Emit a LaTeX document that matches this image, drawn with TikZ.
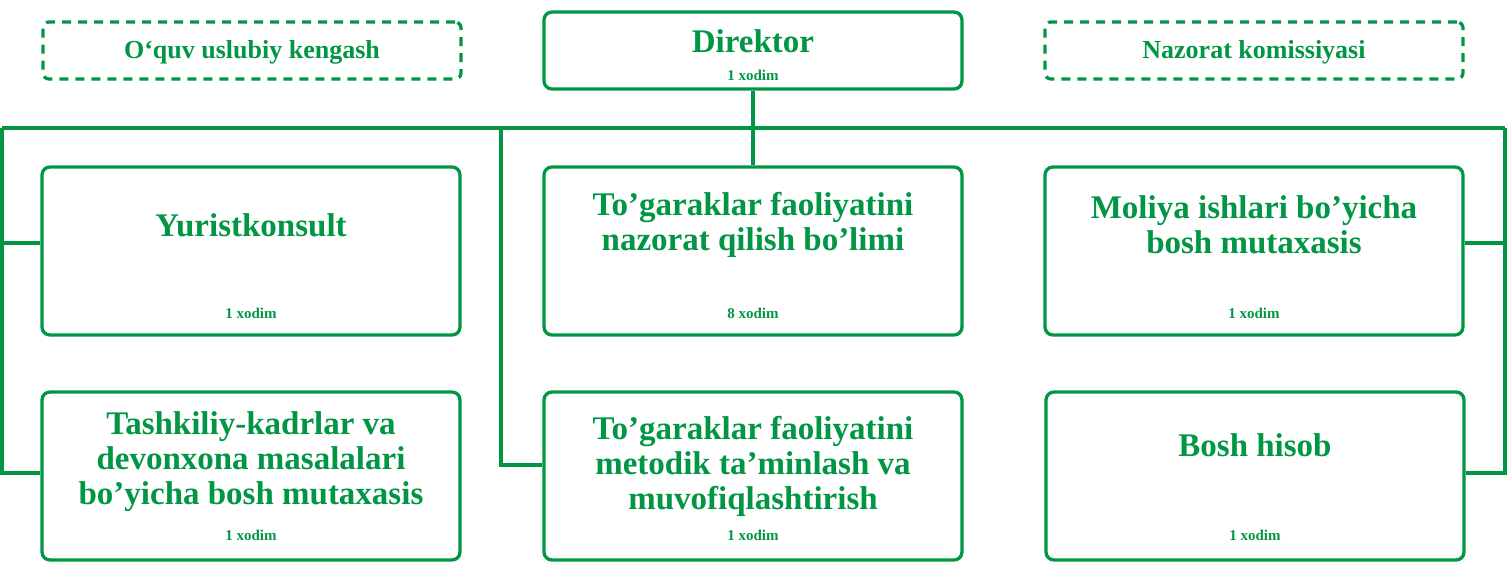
\documentclass[tikz,border=0pt]{standalone}
\usepackage{fontspec}
\setmainfont{Liberation Serif}
\definecolor{grn}{RGB}{0,150,68}
\begin{document}
\begin{tikzpicture}[x=1pt,y=-1pt,
  box/.style={draw=grn,line width=3.3pt,rounded corners=8pt,minimum width=418pt,minimum height=168pt,inner sep=0pt},
  dbox/.style={draw=grn,line width=3.3pt,dash pattern=on 9pt off 7pt,rounded corners=6pt,minimum width=418pt,minimum height=57pt,inner sep=0pt},
  dirbox/.style={draw=grn,line width=3.3pt,rounded corners=8pt,minimum width=418pt,minimum height=77pt,inner sep=0pt},
  ttl/.style={text=grn,font=\fontsize{33}{35}\selectfont\bfseries,align=center,inner sep=0pt},
  sttl/.style={text=grn,font=\fontsize{26}{30}\selectfont\bfseries,align=center,inner sep=0pt},
  cnt/.style={text=grn,font=\fontsize{15}{17}\selectfont\bfseries,inner sep=0pt},
  wire/.style={draw=grn,line width=3.5pt}
]
\useasboundingbox (0,0) rectangle (1508,575);
% top row
\node[dbox] (ouk) at (252,50.5) {};
\node[sttl] (oukt) at (252,52) {O‘quv uslubiy kengash};
\node[dirbox] (dir) at (753,50.5) {};
\node[ttl] (dirt) at (753,41) {Direktor};
\node[cnt] (dirc) at (753,75) {1 xodim};
\node[dbox] (nk) at (1254,50.5) {};
\node[sttl] (nkt) at (1254,52) {Nazorat komissiyasi};
% row 1
\node[box] (a1) at (251,251) {};
\node[ttl] (a1t) at (251,225) {Yuristkonsult};
\node[cnt] (a1c) at (251,313) {1 xodim};
\node[box] (b1) at (753,251) {};
\node[ttl] (b1t) at (753,225) {To’garaklar faoliyatini\\nazorat qilish bo’limi};
\node[cnt] (b1c) at (753,313) {8 xodim};
\node[box] (c1) at (1254,251) {};
\node[ttl] (c1t) at (1254,225) {Moliya ishlari bo’yicha\\bosh mutaxasis};
\node[cnt] (c1c) at (1254,313) {1 xodim};
% row 2
\node[box] (a2) at (251,476) {};
\node[ttl] (a2t) at (251,462) {Tashkiliy-kadrlar va\\devonxona masalalari\\bo’yicha bosh mutaxasis};
\node[cnt] (a2c) at (251,535) {1 xodim};
\node[box] (b2) at (753,476) {};
\node[ttl] (b2t) at (753,466) {To’garaklar faoliyatini\\metodik ta’minlash va\\muvofiqlashtirish};
\node[cnt] (b2c) at (753,535) {1 xodim};
\node[box] (c2) at (1255,476) {};
\node[ttl] (c2t) at (1255,445) {Bosh hisob};
\node[cnt] (c2c) at (1255,535) {1 xodim};
% bus
\coordinate (bl) at (2,128);
\coordinate (br) at (1505,128);
\coordinate (bm) at (501,128);
\draw[wire] (bl) -- (br);
\draw[wire] (dir.south) -- (b1.north);
\draw[wire] (bl) |- ([yshift=8pt]a1.west);
\draw[wire] (bl) |- ([yshift=3pt]a2.west);
\draw[wire] (br) |- ([yshift=8pt]c1.east);
\draw[wire] (br) |- ([yshift=3pt]c2.east);
\draw[wire] (bm) |- ([yshift=11pt]b2.west);
\end{tikzpicture}
\end{document}
